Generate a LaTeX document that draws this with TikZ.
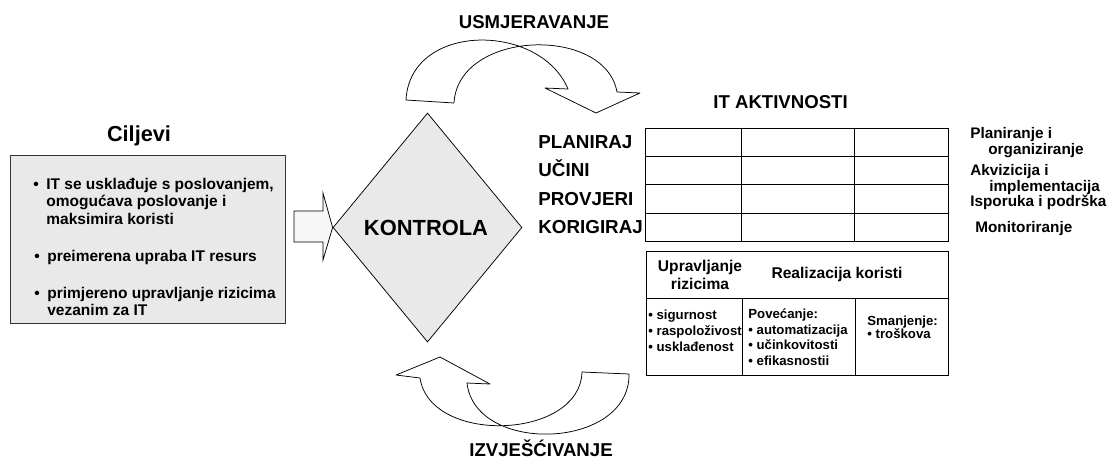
\documentclass[tikz,border=0pt]{standalone}
\usepackage{fontspec}
\setmainfont{Liberation Sans}
\usetikzlibrary{shapes.geometric}
\begin{document}
\begin{tikzpicture}[x=1pt,y=-1pt,line width=0.75pt]
  \tikzset{
    headtxt/.style={inner sep=0pt, anchor=base, font=\fontsize{18.6}{20}\selectfont\bfseries},
    phaselbl/.style={inner sep=0pt, anchor=base west, font=\fontsize{18.8}{20}\selectfont\bfseries},
    arealbl/.style={inner sep=0pt, anchor=north west, align=left, font=\fontsize{15.3}{12}\selectfont\bfseries},
    goaltxt/.style={inner sep=0pt, anchor=north west, align=left, font=\fontsize{15.5}{17.5}\selectfont\bfseries},
    celltxt/.style={inner sep=0pt, anchor=north west, align=left, font=\fontsize{13.2}{15.8}\selectfont\bfseries},
    curvearrow/.style={draw, fill=white, line join=round}
  }
  \useasboundingbox (0,0) rectangle (1111,459);
  % ciljevi
  \node[inner sep=0pt, anchor=base, font=\fontsize{21.7}{24}\selectfont\bfseries] (ciljevi) at (139,141.5) {Ciljevi};
  \node[draw=black!80, fill=gray!17, minimum width=275pt, minimum height=168pt, inner sep=0pt] (goals) at (147.5,239) {};
  \node[goaltxt] (goal1) at (46,177.5) {\llap{•\hspace{7.6pt}}IT se usklađuje s poslovanjem,\\omogućava poslovanje i\\maksimira koristi};
  \node[goaltxt] (goal2) at (47,249.4) {\llap{•\hspace{7.6pt}}preimerena upraba IT resurs};
  \node[goaltxt] (goal3) at (47,286.4) {\llap{•\hspace{7.6pt}}primjereno upravljanje rizicima\\vezanim za IT};
  % kontrola
  \node[diamond, draw, fill=gray!17, minimum width=189pt, minimum height=229pt, inner sep=0pt] (kontrola) at (427.5,227.5) {};
  \node[inner sep=0pt, anchor=base, font=\fontsize{21.9}{24}\selectfont\bfseries] (kontrolatxt) at (426,235) {KONTROLA};
  \draw[fill=gray!6] (294,211) -- (323,211) -- (323,193) -- (kontrola.west) -- (323,260) -- (323,242) -- (294,242) -- cycle;
  % usmjeravanje / izvjescivanje
  \node[headtxt] (usmj) at (534,28.6) {USMJERAVANJE};
  \draw[curvearrow] (406,100) .. controls (410,22) and (540,22) .. (568,89) -- (545,88) -- (596,113) -- (640,93) -- (617,92)
    .. controls (605,25) and (458,30) .. (454,103) -- cycle;
  \node[headtxt] (izvj) at (541,456.7) {IZVJEŠĆIVANJE};
  \draw[curvearrow] (420,378) .. controls (430,445) and (580,440) .. (582,372) -- (629,374)
    .. controls (630,450) and (475,455) .. (467,383) -- (490,384) -- (440,357) -- (396,375) -- cycle;
  % it aktivnosti
  \node[headtxt, anchor=base west] (itakt) at (713,108.8) {IT AKTIVNOSTI};
  \draw (645,128) rectangle (948,241);
  \foreach \y in {156,184,213} \draw (645,\y) -- (948,\y);
  \foreach \x in {741,854} \draw (\x,128) -- (\x,241);
  \node[phaselbl] (plan) at (538,148.7) {PLANIRAJ};
  \node[phaselbl] (ucini) at (538,176.7) {UČINI};
  \node[phaselbl] (provj) at (538,205.2) {PROVJERI};
  \node[phaselbl] (korig) at (538,233.7) {KORIGIRAJ};
  \node[arealbl] (area1) at (970,127.5) {Planiranje i\\\hspace*{18pt}organiziranje};
  \node[arealbl] (area2) at (970,164.5) {Akvizicija i\\\hspace*{19pt}implementacija};
  \node[arealbl] (area3) at (970,194.5) {Isporuka i podrška};
  \node[arealbl] (area4) at (975,221.5) {Monitoriranje};
  % rizici i koristi
  \draw (646,251) rectangle (948,375);
  \draw (646,298) -- (948,298);
  \foreach \x in {742,855} \draw (\x,298) -- (\x,375);
  \node[inner sep=0pt, anchor=north, align=center, font=\fontsize{15.6}{18}\selectfont\bfseries] (rizik) at (700,259.4) {Upravljanje\\rizicima};
  \node[inner sep=0pt, anchor=base, font=\fontsize{15.6}{18}\selectfont\bfseries] (korist) at (837,278.6) {Realizacija koristi};
  \node[celltxt] (sigur) at (648,309.8) {• sigurnost\\• raspoloživost\\• usklađenost};
  \node[celltxt] (poveca) at (748,308.3) {Povećanje:\\• automatizacija\\• učinkovitosti\\• efikasnostii};
  \node[celltxt, font=\fontsize{13.2}{13.5}\selectfont\bfseries] (smanj) at (867,315.3) {Smanjenje:\\• troškova};
\end{tikzpicture}
\end{document}
